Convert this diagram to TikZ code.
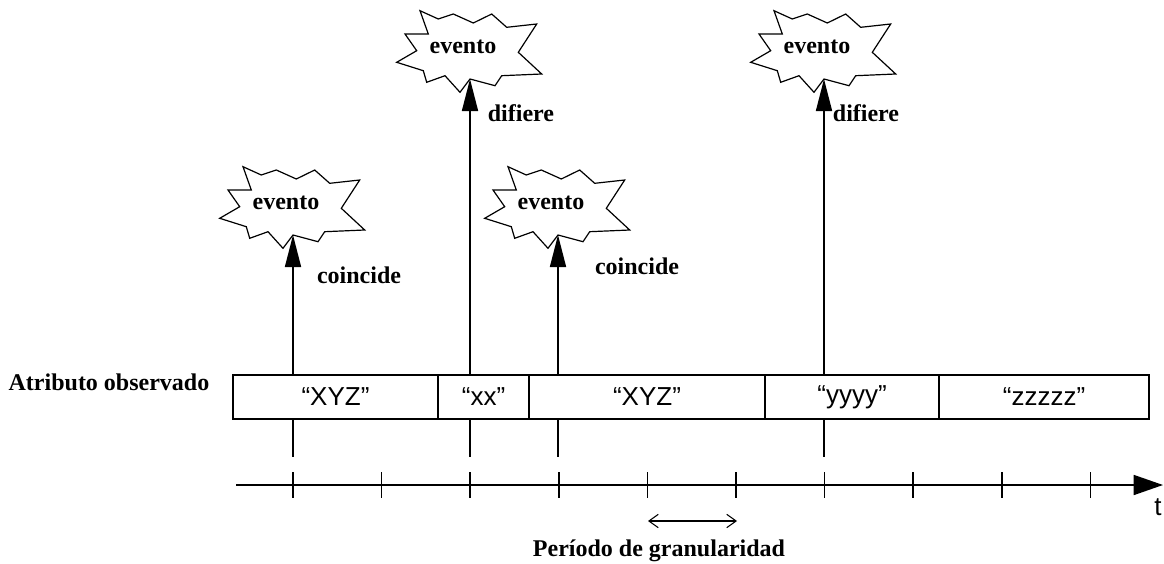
\documentclass[tikz,border=0pt]{standalone}
\usepackage{fontspec}
\setmainfont{Liberation Serif}
\setsansfont{Liberation Sans}
\usetikzlibrary{arrows.meta}
\begin{document}
\begin{tikzpicture}[x=0.75pt,y=0.75pt,yscale=-1,xscale=1,
	lbl/.style={font=\fontsize{18}{20}\selectfont\bfseries, inner sep=0.75pt},
	val/.style={font=\fontsize{19.5}{22}\selectfont\sffamily, inner sep=0.75pt},
	seg/.style={draw, line width=1.2pt, rectangle, minimum height=33pt, inner sep=0pt, val},
	evarrow/.style={line width=1.2pt, -{Triangle[length=24pt,width=12pt]}},
	thin/.style={line width=1.2pt},
	burst/.pic={
		%Starburst outline, origin at its lower notch
		\draw [line width=0.9pt, line join=miter, fill=white] (-50,68.3) -- (-31.7,60) -- (-16.7,65) -- (3.3,56) -- (21.7,65) -- (36.7,51.7) -- (66.7,55) -- (48.3,26.7) -- (71.7,5) -- (31.7,3.3) -- (25,-6.7) -- (0,0) -- (-10,-13.3) -- (-25,3.3) -- (-43.3,-3.3) -- (-46.7,8.3) -- (-73.3,16.7) -- (-53.3,28.3) -- (-65,45) -- (-41.7,45) -- cycle;
	}]
	\useasboundingbox (0,0) rectangle (1164,564);

	%Box segments of the observed attribute
	\foreach \a/\b/\t/\n in {233/438/“XYZ”/s1, 438/529/“xx”/s2, 529/765/“XYZ”/s3, 765/939/“yyyy”/s4, 939/1149/“zzzzz”/s5}
		\node [seg, minimum width={(\b-\a)*0.75pt}] (\n) at ({(\a+\b)/2},397) {\t};

	% Text Node
	\node [lbl] (attr) at (109,382) {Atributo observado};

	%Events
	\coordinate (tip1) at (293,235);
	\coordinate (tip2) at (470,79);
	\coordinate (tip3) at (558,235);
	\coordinate (tip4) at (824,79);
	\foreach \n in {1,...,4}
		\pic at (tip\n) {burst};
	\node [lbl] (ev1) at (286,203) {evento};
	\node [lbl] (ev2) at (463,47) {evento};
	\node [lbl] (ev3) at (551,203) {evento};
	\node [lbl] (ev4) at (817,47) {evento};

	\coordinate (up1) at (293,375);
	\coordinate (up2) at (470,375);
	\coordinate (up3) at (558,375);
	\coordinate (up4) at (824,375);
	\foreach \n in {1,...,4}
		\draw [evarrow] (up\n) -- (tip\n);

	%Straight Lines below the box
	\foreach \x in {293,470,558,824}
		\draw [thin] (\x,419) -- (\x,457);

	% Text Node
	\node [lbl] (c1) at (359,275) {coincide};
	\node [lbl] (d2) at (521,113) {difiere};
	\node [lbl] (c3) at (637,266) {coincide};
	\node [lbl] (d4) at (866,113) {difiere};

	%Time axis
	\coordinate (t0) at (236,485);
	\coordinate (t1) at (1163,485);
	\draw [thin, -{Triangle[length=22pt,width=15pt]}] (t0) -- (t1);
	\foreach \k in {0,...,9}
		\draw [thin] ({293+88.6*\k},472) -- ++(0,26);
	\node [val] (t) at (1158,507) {t};

	%Granularity period
	\coordinate (g0) at (648,521);
	\coordinate (g1) at (737,521);
	\draw [line width=0.8pt, {Straight Barb[length=7pt,width=10pt]}-{Straight Barb[length=7pt,width=10pt]}] (g0) -- (g1);
	\node [lbl] (gran) at (659,551) {Período de granularidad};
\end{tikzpicture}
\end{document}
